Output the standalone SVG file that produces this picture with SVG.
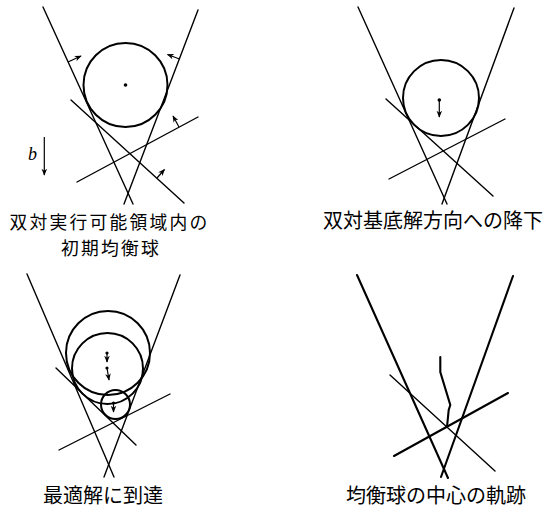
<svg xmlns="http://www.w3.org/2000/svg" width="554" height="509" viewBox="0 0 554 509">
<style>
.ln{stroke:#000;stroke-width:1.4;fill:none;stroke-linecap:round}
.thk{stroke:#000;stroke-width:2.1;fill:none;stroke-linecap:round}
.cir{stroke:#000;stroke-width:2;fill:none}
.ar{stroke:#000;stroke-width:1.2;fill:none;marker-end:url(#ah)}
.cap{font-family:"Noto Sans CJK JP","Noto Sans CJK SC",sans-serif;font-size:20px;fill:#000;text-anchor:middle}
.cap2{font-family:"Noto Sans CJK JP","Noto Sans CJK SC",sans-serif;font-size:17.8px;letter-spacing:2.2px;fill:#000;text-anchor:middle}
</style>
<defs>
<marker id="ah" viewBox="0 0 10 8" refX="9" refY="4" markerWidth="7" markerHeight="6" markerUnits="userSpaceOnUse" orient="auto">
<path d="M0,0 L10,4 L0,8 L3,4 z" fill="#000"/>
</marker>
</defs>
<rect width="554" height="509" fill="#fff"/>

<g id="panel1">
<line class="ln" x1="43" y1="7" x2="133" y2="204"/>
<line class="ln" x1="198" y1="10" x2="124" y2="204"/>
<line class="ln" x1="71" y1="100" x2="184" y2="203"/>
<line class="ln" x1="77" y1="182" x2="198" y2="117"/>
<circle class="cir" cx="125.5" cy="85" r="42"/>
<circle cx="125.5" cy="85" r="1.8" fill="#000"/>
<line class="ar" x1="68" y1="62" x2="81" y2="56"/>
<line class="ar" x1="179.5" y1="59" x2="167.5" y2="54.5"/>
<line class="ar" x1="179" y1="127" x2="173" y2="116"/>
<line class="ar" x1="157" y1="178" x2="164.5" y2="169.5"/>
<line class="ar" x1="44.3" y1="137" x2="44.3" y2="175"/>
<text x="28" y="160" font-family="Liberation Serif, serif" font-style="italic" font-size="18">b</text>
<text class="cap2" x="109.5" y="229">双対実行可能領域内の</text>
<text class="cap2" x="111" y="255">初期均衡球</text>
</g>

<g id="panel2">
<line class="ln" x1="358" y1="7" x2="447" y2="204"/>
<line class="ln" x1="514" y1="8" x2="442" y2="204"/>
<line class="ln" x1="386" y1="99" x2="493" y2="196"/>
<line class="ln" x1="389" y1="179" x2="505" y2="119"/>
<circle class="cir" cx="441" cy="98" r="38"/>
<circle cx="439.3" cy="100" r="1.8" fill="#000"/>
<line class="ar" x1="439.3" y1="100" x2="439.3" y2="117"/>
<text class="cap" x="433" y="228">双対基底解方向への降下</text>
</g>

<g id="panel3">
<line class="ln" x1="27" y1="274" x2="114" y2="477"/>
<line class="ln" x1="180" y1="275" x2="104" y2="477"/>
<line class="ln" x1="56" y1="368" x2="136" y2="445"/>
<line class="ln" x1="59" y1="450" x2="170" y2="394"/>
<circle class="cir" cx="108" cy="353" r="42"/>
<circle class="cir" cx="107.5" cy="368.5" r="35.5"/>
<circle class="cir" cx="115.5" cy="404.5" r="14.5"/>
<circle cx="107" cy="353" r="1.6" fill="#000"/>
<line class="ar" x1="107" y1="353" x2="107" y2="362"/>
<circle cx="107" cy="368" r="1.6" fill="#000"/>
<line class="ar" x1="107" y1="368" x2="109" y2="380"/>
<circle cx="113.5" cy="403" r="1.6" fill="#000"/>
<line class="ar" x1="113.5" y1="403" x2="113.5" y2="412"/>
<text class="cap" x="103" y="503">最適解に到達</text>
</g>

<g id="panel4">
<line class="thk" x1="357" y1="275" x2="448" y2="478"/>
<line class="thk" x1="513" y1="276" x2="441" y2="477"/>
<line class="ln" x1="390" y1="375" x2="495" y2="471"/>
<line class="thk" x1="394" y1="456" x2="508" y2="393"/>
<polyline class="thk" points="440.3,357 440.3,372 450.3,405 448.7,410 447,427"/>
<text class="cap" x="436" y="503">均衡球の中心の軌跡</text>
</g>
</svg>
